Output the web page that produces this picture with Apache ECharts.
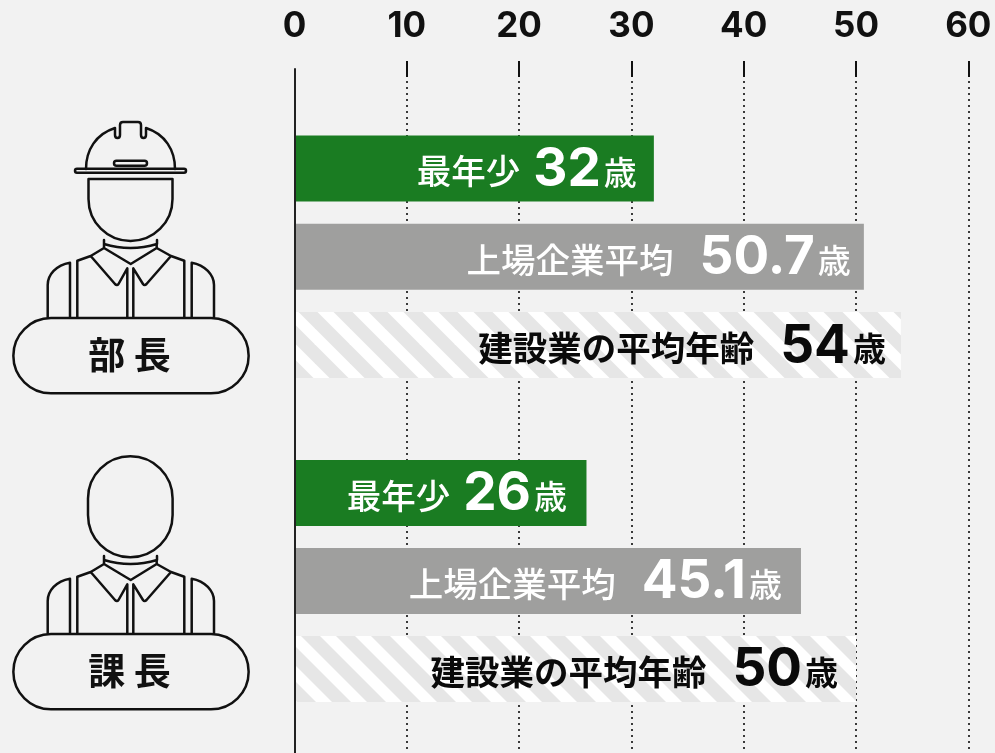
<!DOCTYPE html>
<html><head><meta charset="utf-8">
<style>html,body{margin:0;padding:0;background:#f2f2f2}#c{width:995px;height:753px}</style>
<script src="https://cdn.jsdelivr.net/npm/echarts@6/dist/echarts.min.js"></script>
</head><body><div id="c"></div>
<script>
const categories = ['最年少', '上場企業平均', '建設業の平均年齢'];
const buchoValues = [32, 50.7, 54];
const kachoValues = [26, 45.1, 50];
const groupTitles = ['部 長', '課 長'];

const LATIN = 'Inter, "Noto Sans CJK JP", sans-serif';
const CJK = '"Noto Sans CJK JP", sans-serif';

function stripes(phase) {
  const p = 35, grey = 19, c = document.createElement('canvas');
  c.width = p; c.height = p;
  const g = c.getContext('2d');
  g.fillStyle = '#ffffff'; g.fillRect(0, 0, p, p);
  g.fillStyle = '#e6e6e6';
  for (let k = -2; k <= 1; k++) {
    const x0 = k * p + phase;
    g.beginPath();
    g.moveTo(x0, 0); g.lineTo(x0 + grey, 0);
    g.lineTo(x0 + grey + p, p); g.lineTo(x0 + p, p);
    g.closePath(); g.fill();
  }
  return c;
}
const textRich = (color, w) => ({
  t: { fontFamily: CJK, fontSize: 34.5, fontWeight: w, color, verticalAlign: 'bottom', lineHeight: 50, padding: [0, 0, 8, 0] },
  g: { width: 13 }, h: { width: 26 },
  n: { fontFamily: LATIN, fontSize: 53, fontWeight: 700, color, verticalAlign: 'bottom', lineHeight: 50 },
  u: { fontFamily: CJK, fontSize: 33, fontWeight: w, color, verticalAlign: 'bottom', lineHeight: 50, padding: [0, 0, 8, 3] }
});
function rows(values, hatch, gaps) {
  const fills = ['#1a7c22', '#9f9f9e', { image: stripes(hatch), repeat: 'repeat' }];
  return values.map((v, i) => ({
    value: v,
    itemStyle: { color: fills[i] },
    label: {
      show: true, position: 'insideRight', distance: gaps[i], offset: [0, 3],
      formatter: `{t|${categories[i]}}{${i === 0 ? 'g' : 'h'}|}{n|${v}}{u|歳}`,
      rich: textRich(i === 2 ? '#0a0a0a' : '#ffffff', i === 2 ? 700 : 500)
    }
  }));
}

const hat = 'M86 169C86 150 96 134 115 128V135Q115 138 117.5 138Q120 138 120 135V125Q120 122 123 122H138Q141 122 141 125V135Q141 138 143.5 138Q146 138 146 135V128C165 134 175 150 175 169' +
  'M77 168.7H184A2 2 0 0 1 184 172.7H77A2 2 0 0 1 77 168.7Z' +
  'M116.5 160.7H144.5A2.5 2.5 0 0 1 144.5 165.7H116.5A2.5 2.5 0 0 1 116.5 160.7Z' +
  'M88.5 179H172.5V199A42 42 0 0 1 88.5 199Z';
const bareHead = 'M88 498.5A42.3 42.3 0 0 1 172.6 498.5V515A42.3 42.3 0 0 1 88 515Z';
const body = 'M104 240V244Q130.5 252 157 244V240M104 244V248L130.7 264L156.7 248V244' +
  'M104 248L90.7 256L115 284Q117 286 118.5 284L127.3 268.3V318' +
  'M156.7 248L171 256L146.5 284Q144.5 286 143 284L133.3 268.3V318' +
  'M90.7 256L77.3 260.7V318M171 256L184.3 260.7V318' +
  'M70 262.7V318M70 262.7C56 265 47.7 275 47.7 285V318' +
  'M191.7 262.7V318M191.7 262.7C205 265 214 275 214 285V318' +
  'M51 318H211A37.65 37.65 0 0 1 211 393.3H51A37.65 37.65 0 0 1 51 318Z';
const line = { fill: 'none', stroke: '#111111', lineWidth: 2.5, lineJoin: 'round', lineCap: 'round' };

const chart = echarts.init(document.getElementById('c'), null, { renderer: 'canvas' });
chart.setOption({
  animation: false,
  backgroundColor: '#f2f2f2',
  grid: [
    { left: 294.5, width: 673.8, top: 69, height: 684 },
    { left: 294.5, width: 673.8, top: 124.4, height: 264.8 },
    { left: 294.5, width: 673.8, top: 449, height: 264 },
    { left: 294.5, width: 673.8, top: 61, height: 16 }
  ],
  xAxis: [
    { gridIndex: 0, type: 'value', position: 'top', min: 0, max: 60, interval: 10, offset: 8,
      axisLine: { show: false }, axisTick: { show: false },
      axisLabel: { margin: 17, fontFamily: LATIN, fontSize: 35, fontWeight: 700, color: '#111111', hideOverlap: false },
      splitLine: { show: true, lineStyle: { color: '#3a3a3a', width: 2, type: [2, 4] } } },
    { gridIndex: 1, type: 'value', min: 0, max: 60, show: false },
    { gridIndex: 2, type: 'value', min: 0, max: 60, show: false },
    { gridIndex: 3, type: 'value', min: 0, max: 60, interval: 10, position: 'top',
      axisLine: { show: false }, axisTick: { show: false }, axisLabel: { show: false },
      splitLine: { show: true, showMinLine: false, lineStyle: { color: '#111111', width: 2 } } }
  ],
  yAxis: [
    { gridIndex: 0, type: 'value', min: 0, max: 1, z: 6, axisLabel: { show: false }, axisTick: { show: false }, splitLine: { show: false },
      axisLine: { show: true, onZero: false, lineStyle: { color: '#222222', width: 2 } } },
    { gridIndex: 1, type: 'category', data: categories, inverse: true, show: false },
    { gridIndex: 2, type: 'category', data: categories, inverse: true, show: false },
    { gridIndex: 3, type: 'value', min: 0, max: 1, show: false }
  ],
  series: [
    { type: 'bar', xAxisIndex: 1, yAxisIndex: 1, barWidth: 66, data: rows(buchoValues, 21.5, [17, 13, 15]), silent: true },
    { type: 'bar', xAxisIndex: 2, yAxisIndex: 2, barWidth: 66, data: rows(kachoValues, 15, [19.5, 19, 18]), silent: true },
    { type: 'custom', coordinateSystem: 'none', silent: true, z: 8, data: groupTitles.map((t, i) => i),
      renderItem: (params) => {
        const i = params.dataIndex;
        return { type: 'group', y: i * 316, children: [
          { type: 'path', shape: { pathData: body }, style: line },
          { type: 'path', y: i === 1 ? -316 : 0, shape: { pathData: i === 0 ? hat : bareHead }, style: line },
          { type: 'text', style: { text: groupTitles[i], x: 129.5, y: 354.5, align: 'center', verticalAlign: 'middle', font: '700 37px ' + CJK, fill: '#111111' } }
        ] };
      } }
  ]
});
</script></body></html>
